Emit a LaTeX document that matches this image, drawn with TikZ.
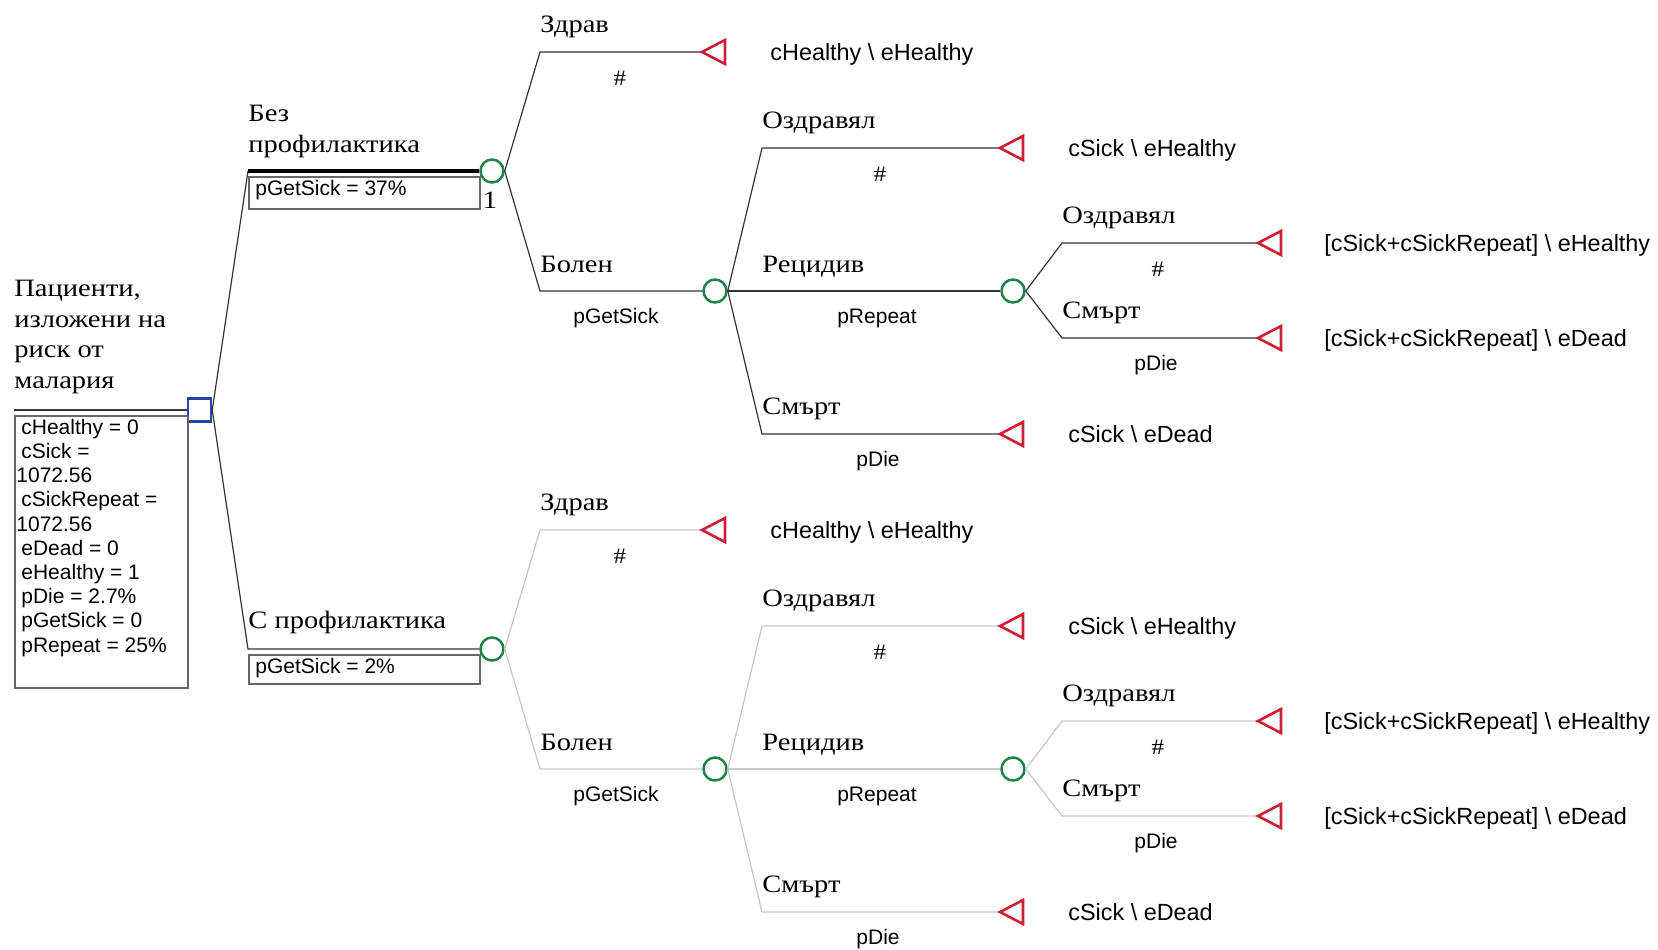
\documentclass[tikz,border=0pt]{standalone}
\usepackage{fontspec}
\setmainfont{Liberation Serif}[FakeStretch=1.14]
\setsansfont{Liberation Sans}
\usepackage{tikz}
\definecolor{chgreen}{RGB}{30,132,70}
\definecolor{decblue}{RGB}{38,70,170}
\definecolor{termred}{RGB}{205,30,52}

\begin{document}
\begin{tikzpicture}[x=0.5pt,y=-0.5pt]
	\tikzstyle{chance}=[circle,draw=chgreen,line width=1.25pt,minimum size=11.5pt,inner sep=0pt]
	\tikzstyle{decision}=[rectangle,draw=decblue,line width=1.25pt,minimum size=11.5pt,inner sep=0pt]
	\tikzstyle{term}=[draw=termred,line width=1.3pt,line join=miter]
	\tikzstyle{branch}=[draw=black!80,line width=0.6pt]
	\tikzstyle{offbranch}=[draw=black!22,line width=0.6pt]
	\tikzstyle{lbl}=[anchor=base west,inner sep=0pt,align=left,font=\fontsize{12.5}{15.25}\selectfont]
	\tikzstyle{prob}=[anchor=base,inner sep=0pt,font=\sffamily\fontsize{10.5}{12.1}\selectfont]
	\tikzstyle{hash}=[anchor=base,inner sep=0pt,font=\fontsize{11}{12}\selectfont]
	\tikzstyle{payoff}=[anchor=base west,inner sep=0pt,font=\sffamily\fontsize{11.7}{14}\selectfont]
	\tikzstyle{varbox}=[draw=black!60,line width=1pt,inner sep=0pt,anchor=north west]
	\useasboundingbox (0,0) rectangle (1658,949);

	\coordinate (root) at (14,410);
	\node[decision](dec) at (199.5,410) {};
	\draw[branch,line width=1pt] (root) -- (dec);
	\node[lbl](rootlbl) at (14,388) {Пациенти,\\изложени на\\риск от\\малария};
	\node[varbox,minimum width=86.5pt,minimum height=136pt](rootbox) at (14,415) {};
	\node[prob,anchor=base west,align=left](vars) at (16,652) {\hspace*{2.5pt}cHealthy = 0\\\hspace*{2.5pt}cSick =\\1072.56\\\hspace*{2.5pt}cSickRepeat =\\1072.56\\\hspace*{2.5pt}eDead = 0\\\hspace*{2.5pt}eHealthy = 1\\\hspace*{2.5pt}pDie = 2.7\%\\\hspace*{2.5pt}pGetSick = 0\\\hspace*{2.5pt}pRepeat = 25\%};

	\coordinate (nopro) at (248,171);
	\coordinate (pro) at (248,649);
	\node[chance](c1) at (492,171) {};
	\node[chance](d1) at (492,649) {};
	\draw[branch] (dec.east) -- (nopro);
	\draw[black,line width=2pt] (nopro) -- (c1);
	\draw[branch] (dec.east) -- (pro) -- (d1);
	\node[lbl](noprolbl) at (248,152) {Без\\профилактика};
	\node[lbl](prolbl) at (248,628) {С профилактика};
	\node[varbox,minimum width=115.5pt,minimum height=16pt](nobox) at (248,176) {};
	\node[prob,anchor=base west](noboxtxt) at (255,195) {pGetSick = 37\%};
	\node[varbox,minimum width=115.5pt,minimum height=14.5pt](probox) at (248,654) {};
	\node[prob,anchor=base west](proboxtxt) at (255,673) {pGetSick = 2\%};
	\node[lbl,anchor=base](one) at (490,208) {1};

	\node[chance](c2) at (715,291) {};
	\node[chance](c3) at (1013,291) {};
	\coordinate (zdr) at (540,52);
	\coordinate (bol) at (540,291);
	\coordinate (ozd) at (762,148);
	\coordinate (smr) at (762,434);
	\coordinate (ozdr) at (1062,243);
	\coordinate (smrr) at (1062,338);
	\coordinate (t1) at (702,52);
	\coordinate (t2) at (1000,148);
	\coordinate (t3) at (1000,434);
	\coordinate (t4) at (1258,243);
	\coordinate (t5) at (1258,338);
	\draw[branch] (c1.east) -- (zdr) -- (t1);
	\draw[branch] (c1.east) -- (bol) -- (c2);
	\draw[branch] (c2.east) -- (ozd) -- (t2);
	\draw[branch] (c2) -- (c3);
	\draw[branch] (c2.east) -- (smr) -- (t3);
	\draw[branch] (c3.east) -- (ozdr) -- (t4);
	\draw[branch] (c3.east) -- (smrr) -- (t5);
	\draw[term] (t1) -- ++(23,-12) -- ++(0,24) -- cycle;
	\draw[term] (t2) -- ++(23,-12) -- ++(0,24) -- cycle;
	\draw[term] (t3) -- ++(23,-12) -- ++(0,24) -- cycle;
	\draw[term] (t4) -- ++(23,-12) -- ++(0,24) -- cycle;
	\draw[term] (t5) -- ++(23,-12) -- ++(0,24) -- cycle;
	\node[lbl](zdrlbl) at (540,32) {Здрав};
	\node[hash](zdrp) at (620,85) {\#};
	\node[payoff](zdrv) at (770,60) {cHealthy \textbackslash{} eHealthy};
	\node[lbl](bollbl) at (540,272) {Болен};
	\node[prob](bolp) at (616,323) {pGetSick};
	\node[lbl](ozdlbl) at (762,128) {Оздравял};
	\node[hash](ozdp) at (880,181) {\#};
	\node[payoff](ozdv) at (1068,156) {cSick \textbackslash{} eHealthy};
	\node[lbl](reclbl) at (762,272) {Рецидив};
	\node[prob](recp) at (877,323) {pRepeat};
	\node[lbl](smrlbl) at (762,414) {Смърт};
	\node[prob](smrp) at (878,466) {pDie};
	\node[payoff](smrv) at (1068,442) {cSick \textbackslash{} eDead};
	\node[lbl](ozdrlbl) at (1062,223) {Оздравял};
	\node[hash](ozdrp) at (1158,276) {\#};
	\node[payoff](ozdrv) at (1324,251) {[cSick+cSickRepeat] \textbackslash{} eHealthy};
	\node[lbl](smrrlbl) at (1062,318) {Смърт};
	\node[prob](smrrp) at (1156,370) {pDie};
	\node[payoff](smrrv) at (1324,346) {[cSick+cSickRepeat] \textbackslash{} eDead};

	\node[chance](d2) at (715,769) {};
	\node[chance](d3) at (1013,769) {};
	\coordinate (zdrb) at (540,530);
	\coordinate (bolb) at (540,769);
	\coordinate (ozdb) at (762,626);
	\coordinate (smrb) at (762,912);
	\coordinate (ozdrb) at (1062,721);
	\coordinate (smrrb) at (1062,816);
	\coordinate (u1) at (702,530);
	\coordinate (u2) at (1000,626);
	\coordinate (u3) at (1000,912);
	\coordinate (u4) at (1258,721);
	\coordinate (u5) at (1258,816);
	\draw[offbranch] (d1.east) -- (zdrb) -- (u1);
	\draw[offbranch] (d1.east) -- (bolb) -- (d2);
	\draw[offbranch] (d2.east) -- (ozdb) -- (u2);
	\draw[offbranch] (d2) -- (d3);
	\draw[offbranch] (d2.east) -- (smrb) -- (u3);
	\draw[offbranch] (d3.east) -- (ozdrb) -- (u4);
	\draw[offbranch] (d3.east) -- (smrrb) -- (u5);
	\draw[term] (u1) -- ++(23,-12) -- ++(0,24) -- cycle;
	\draw[term] (u2) -- ++(23,-12) -- ++(0,24) -- cycle;
	\draw[term] (u3) -- ++(23,-12) -- ++(0,24) -- cycle;
	\draw[term] (u4) -- ++(23,-12) -- ++(0,24) -- cycle;
	\draw[term] (u5) -- ++(23,-12) -- ++(0,24) -- cycle;
	\node[lbl](zdrblbl) at (540,510) {Здрав};
	\node[hash](zdrbp) at (620,563) {\#};
	\node[payoff](zdrbv) at (770,538) {cHealthy \textbackslash{} eHealthy};
	\node[lbl](bolblbl) at (540,750) {Болен};
	\node[prob](bolbp) at (616,801) {pGetSick};
	\node[lbl](ozdblbl) at (762,606) {Оздравял};
	\node[hash](ozdbp) at (880,659) {\#};
	\node[payoff](ozdbv) at (1068,634) {cSick \textbackslash{} eHealthy};
	\node[lbl](recblbl) at (762,750) {Рецидив};
	\node[prob](recbp) at (877,801) {pRepeat};
	\node[lbl](smrblbl) at (762,892) {Смърт};
	\node[prob](smrbp) at (878,944) {pDie};
	\node[payoff](smrbv) at (1068,920) {cSick \textbackslash{} eDead};
	\node[lbl](ozdrblbl) at (1062,701) {Оздравял};
	\node[hash](ozdrbp) at (1158,754) {\#};
	\node[payoff](ozdrbv) at (1324,729) {[cSick+cSickRepeat] \textbackslash{} eHealthy};
	\node[lbl](smrrblbl) at (1062,796) {Смърт};
	\node[prob](smrrbp) at (1156,848) {pDie};
	\node[payoff](smrrbv) at (1324,824) {[cSick+cSickRepeat] \textbackslash{} eDead};
\end{tikzpicture}
\end{document}
